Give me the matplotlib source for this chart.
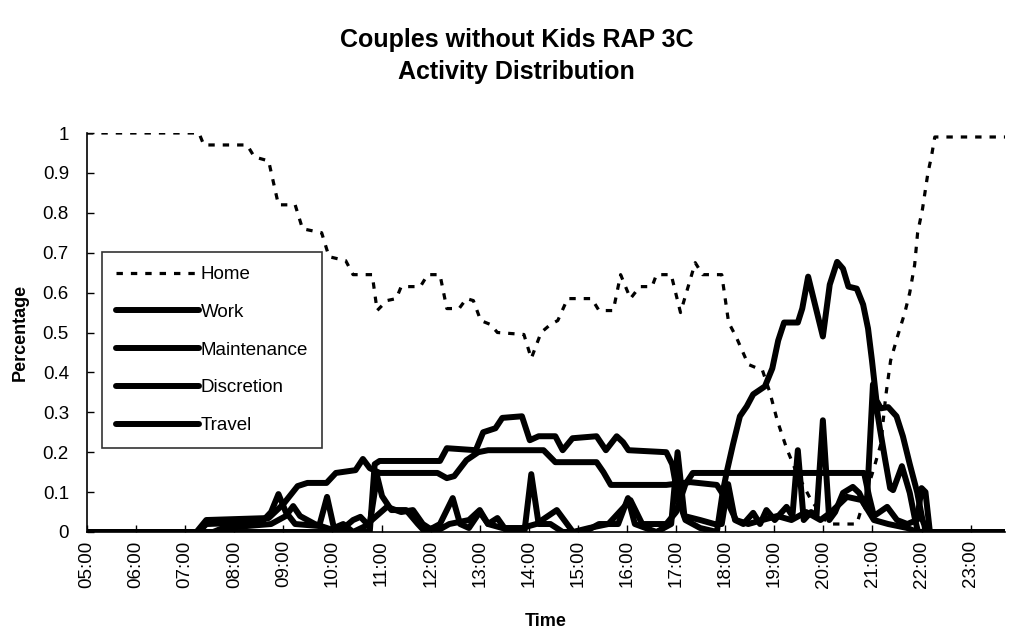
import matplotlib
matplotlib.use("Agg")
from matplotlib import pyplot as plt

plt.rcParams['font.family'] = ['Liberation Sans', 'DejaVu Sans']

# Time axis (hours) and labels
tick_hours = list(range(5, 24))
tick_labels = ['%02d:00' % h for h in tick_hours]
y_ticks = [0, 0.1, 0.2, 0.3, 0.4, 0.5, 0.6, 0.7, 0.8, 0.9, 1]
y_labels = ['0', '0.1', '0.2', '0.3', '0.4', '0.5', '0.6', '0.7', '0.8', '0.9', '1']

# Home (dashed)
home_t = [5.0, 7.28, 7.38, 8.26, 8.41, 8.70, 8.90, 9.24, 9.39, 9.78, 9.93, 10.27,
          10.42, 10.81, 10.91, 11.11, 11.30, 11.40, 11.79, 11.94, 12.19, 12.33,
          12.58, 12.73, 12.87, 13.02, 13.22, 13.36, 13.90, 14.05, 14.25, 14.44,
          14.59, 14.79, 15.28, 15.43, 15.72, 15.87, 16.07, 16.26, 16.51, 16.60,
          16.90, 17.09, 17.39, 17.54, 17.93, 18.07, 18.22, 18.47, 18.76, 18.91,
          19.06, 19.25, 19.45, 19.75, 20.04, 20.14, 20.68, 20.83, 21.03, 21.17,
          21.27, 21.37, 21.51, 21.66, 21.76, 21.86, 21.92, 22.02, 22.13, 22.20,
          22.27, 23.7]
home_v = [1.0, 1.0, 0.97, 0.97, 0.94, 0.93, 0.82, 0.82, 0.76, 0.75, 0.69, 0.68,
          0.645, 0.645, 0.555, 0.58, 0.585, 0.615, 0.615, 0.645, 0.645, 0.56,
          0.56, 0.585, 0.58, 0.53, 0.52, 0.5, 0.495, 0.435, 0.5, 0.52,
          0.53, 0.585, 0.585, 0.555, 0.555, 0.645, 0.585, 0.615, 0.615, 0.645,
          0.645, 0.55, 0.675, 0.645, 0.645, 0.525, 0.49, 0.42, 0.405, 0.35,
          0.28, 0.21, 0.15, 0.08, 0.03, 0.02, 0.02, 0.08, 0.16, 0.22,
          0.34, 0.43, 0.49, 0.55, 0.6, 0.67, 0.75, 0.81, 0.9, 0.94,
          0.99, 0.99]

# Work
work_t = [5.0, 7.23, 7.43, 8.70, 9.00, 9.29, 9.49, 9.88, 10.07, 10.47, 10.62, 10.76,
          10.96, 12.14, 12.33, 12.48, 12.73, 12.97, 13.17, 14.30, 14.54, 15.38,
          15.52, 15.67, 16.80, 17.29, 17.83, 18.03, 18.22, 18.47, 18.76, 19.06,
          19.35, 19.65, 19.94, 20.14, 20.48, 20.78, 21.03, 21.32, 21.71, 21.91, 23.7]
work_v = [0, 0, 0.03, 0.035, 0.07, 0.115, 0.123, 0.123, 0.148, 0.155, 0.183, 0.16,
          0.148, 0.148, 0.135, 0.14, 0.18, 0.2, 0.205, 0.205, 0.175, 0.175,
          0.15, 0.118, 0.118, 0.125, 0.118, 0.08, 0.03, 0.02, 0.03, 0.04,
          0.03, 0.05, 0.03, 0.048, 0.088, 0.08, 0.03, 0.02, 0.01, 0, 0]

# Maintenance
maint_t = [5.0, 7.57, 7.77, 8.75, 9.05, 9.20, 9.34, 9.64, 10.13, 10.42, 10.57, 10.71,
           11.11, 11.40, 11.64, 11.84, 12.09, 12.38, 12.78, 13.00, 13.17, 13.46,
           13.86, 14.15, 14.57, 14.90, 15.23, 15.62, 16.07, 16.31, 16.80, 17.00,
           17.19, 17.34, 20.83, 20.93, 21.03, 21.30, 21.50, 21.71, 21.91, 22.00,
           22.08, 22.17, 23.7]
maint_v = [0, 0, 0.01, 0.02, 0.04, 0.065, 0.04, 0.02, 0.0, 0.03, 0.038, 0.02,
           0.063, 0.05, 0.055, 0.02, 0.0, 0.02, 0.03, 0.055, 0.02, 0.01,
           0.01, 0.02, 0.055, 0.0, 0.01, 0.02, 0.08, 0.02, 0.02, 0.05,
           0.12, 0.148, 0.148, 0.09, 0.04, 0.063, 0.03, 0.02, 0.03, 0.11,
           0.1, 0, 0]

# Discretion
disc_t = [5.0, 10.76, 10.86, 10.96, 12.19, 12.33, 12.92, 13.07, 13.32, 13.46, 13.86,
          14.02, 14.20, 14.54, 14.69, 14.89, 15.38, 15.57, 15.79, 15.92, 16.03,
          16.80, 16.92, 17.05, 17.19, 17.49, 17.83, 17.95, 18.04, 18.16, 18.30,
          18.44, 18.57, 18.81, 18.96, 19.08, 19.20, 19.48, 19.57, 19.69, 19.79,
          19.99, 20.13, 20.28, 20.40, 20.51, 20.68, 20.81, 20.91, 20.99, 21.08,
          21.17, 21.32, 21.49, 21.62, 21.76, 21.91, 22.02, 22.11, 23.7]
disc_v = [0, 0, 0.17, 0.178, 0.178, 0.21, 0.205, 0.25, 0.26, 0.286, 0.29,
          0.23, 0.24, 0.24, 0.205, 0.235, 0.24, 0.205, 0.24, 0.225, 0.205,
          0.2, 0.17, 0.08, 0.03, 0.01, 0.0, 0.1, 0.155, 0.22, 0.29,
          0.315, 0.345, 0.365, 0.41, 0.48, 0.525, 0.525, 0.56, 0.64, 0.59,
          0.49, 0.62, 0.677, 0.66, 0.615, 0.61, 0.57, 0.51, 0.43, 0.33,
          0.31, 0.313, 0.29, 0.24, 0.17, 0.1, 0.03, 0, 0]

# Travel
travel_t = [5.0, 7.28, 7.43, 8.56, 8.75, 8.90, 9.05, 9.24, 9.73, 9.89, 10.03, 10.22,
            10.42, 10.76, 10.91, 11.01, 11.20, 11.50, 11.74, 11.89, 12.19, 12.45,
            12.60, 12.78, 13.00, 13.17, 13.36, 13.56, 13.91, 14.05, 14.20, 14.44,
            14.69, 15.13, 15.43, 15.82, 16.02, 16.16, 16.60, 16.90, 17.03, 17.17,
            17.49, 17.78, 17.93, 18.06, 18.20, 18.37, 18.57, 18.71, 18.84, 19.01,
            19.25, 19.37, 19.48, 19.60, 19.75, 19.86, 19.99, 20.12, 20.24, 20.40,
            20.60, 20.73, 20.88, 21.01, 21.15, 21.26, 21.36, 21.42, 21.60, 21.76,
            21.87, 21.93, 23.7]
travel_v = [0, 0, 0.02, 0.025, 0.05, 0.095, 0.05, 0.02, 0.015, 0.088, 0.01, 0.02,
            0.0, 0.02, 0.14, 0.09, 0.055, 0.055, 0.02, 0.0, 0.02, 0.085,
            0.02, 0.01, 0.05, 0.02, 0.035, 0.0, 0.0, 0.145, 0.02, 0.02,
            0.0, 0.0, 0.02, 0.02, 0.085, 0.02, 0.0, 0.02, 0.2, 0.04,
            0.03, 0.02, 0.02, 0.12, 0.03, 0.02, 0.048, 0.02, 0.055, 0.03,
            0.063, 0.04, 0.205, 0.03, 0.05, 0.04, 0.28, 0.03, 0.05, 0.098,
            0.113, 0.098, 0.06, 0.37, 0.26, 0.18, 0.11, 0.105, 0.165, 0.098,
            0.03, 0, 0]

W, H = 1009, 634
fig = plt.figure(figsize=(W / 100, H / 100), dpi=100)
ax = fig.add_axes([87 / W, 1 - 532 / H, 918 / W, 399 / H])

solid = dict(color='black', lw=4.3, solid_joinstyle='round', solid_capstyle='round')
ax.plot(home_t, home_v, color='black', lw=2.3, linestyle=(0, (2.0, 2.5)), label='Home')
ax.plot(work_t, work_v, label='Work', **solid)
ax.plot(maint_t, maint_v, label='Maintenance', **solid)
ax.plot(disc_t, disc_v, label='Discretion', **solid)
ax.plot(travel_t, travel_v, label='Travel', **solid)

ax.set_xlim(5, 23.7)
ax.set_ylim(0, 1)
ax.set_xticks(tick_hours)
ax.set_xticklabels(tick_labels, rotation=90, fontsize=13.5)
ax.set_yticks(y_ticks)
ax.set_yticklabels(y_labels, fontsize=13.5)
ax.tick_params(direction='in', length=5, width=1, color='black')
ax.tick_params(axis='y', pad=13)
ax.tick_params(axis='x', pad=6)
for side in ['top', 'right']:
    ax.spines[side].set_visible(False)
for side in ['left', 'bottom']:
    ax.spines[side].set_linewidth(1.2)

ax.set_xlabel('Time', fontsize=13, fontweight='bold', labelpad=18)
ax.set_ylabel('Percentage', fontsize=13, fontweight='bold', labelpad=10)

fig.text(0.512, 1 - 28 / H, 'Couples without Kids RAP 3C\nActivity Distribution',
         ha='center', va='top', fontsize=18, fontweight='bold', linespacing=1.4)

leg = ax.legend(loc='upper left', bbox_to_anchor=(102 / W, 1 - 252 / H),
                bbox_transform=fig.transFigure, fontsize=13.5, frameon=True,
                fancybox=False, shadow=False, borderaxespad=0,
                handlelength=4.4, handletextpad=0.1, labelspacing=1.1,
                borderpad=0.75)
leg.get_frame().set_edgecolor('black')
leg.get_frame().set_linewidth(1.2)

fig.savefig('out.png', dpi=100)
